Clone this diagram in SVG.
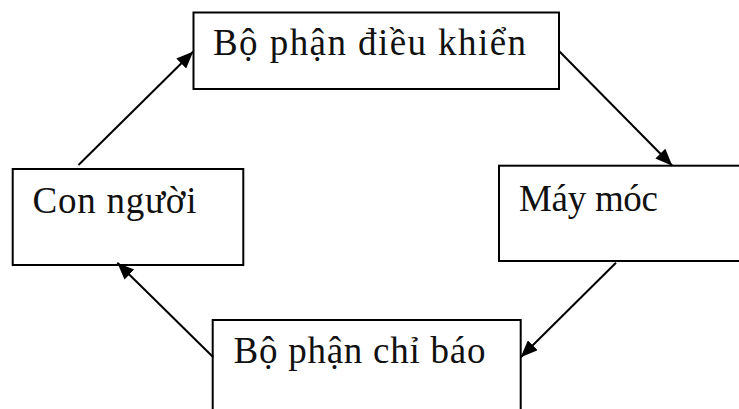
<svg xmlns="http://www.w3.org/2000/svg" width="739" height="409" viewBox="0 0 739 409">
<style>
.box{fill:#fff;stroke:#000;stroke-width:2}
.lbl{font-family:"Liberation Serif","Times New Roman",serif;font-size:37px;fill:#111}
.conn{stroke:#000;stroke-width:2;fill:none;marker-end:url(#ah)}
</style>
<defs>
<marker id="ah" viewBox="0 0 17 14" refX="17" refY="7" markerWidth="17" markerHeight="14" markerUnits="userSpaceOnUse" orient="auto">
<path d="M0,0 L17,7 L0,14 z" fill="#000"/>
</marker>
</defs>
<rect width="739" height="409" fill="#fff"/>
<g id="node-dieukhien">
<rect class="box" x="193.5" y="12.5" width="365.5" height="76.5"/>
<text class="lbl" x="213" y="55" textLength="313" lengthAdjust="spacing">Bộ phận điều khiển</text>
</g>
<g id="node-maymoc">
<rect class="box" x="499" y="165.7" width="250" height="95.3"/>
<text class="lbl" x="519" y="211" textLength="139" lengthAdjust="spacing">Máy móc</text>
</g>
<g id="node-connguoi">
<rect class="box" x="12.7" y="169" width="230.6" height="96"/>
<text class="lbl" x="32.5" y="213" textLength="164" lengthAdjust="spacing">Con người</text>
</g>
<g id="node-chibao">
<rect class="box" x="212.7" y="320" width="308" height="100"/>
<text class="lbl" x="233.5" y="363" textLength="252" lengthAdjust="spacing">Bộ phận chỉ báo</text>
</g>
<g id="connectors">
<line class="conn" x1="78.5" y1="165" x2="193.3" y2="51.5"/>
<line class="conn" x1="559" y1="51" x2="672.3" y2="165.7"/>
<line class="conn" x1="616" y1="262.7" x2="520.7" y2="357.3"/>
<line class="conn" x1="213.3" y1="357.3" x2="117.3" y2="262.7"/>
</g>
</svg>
